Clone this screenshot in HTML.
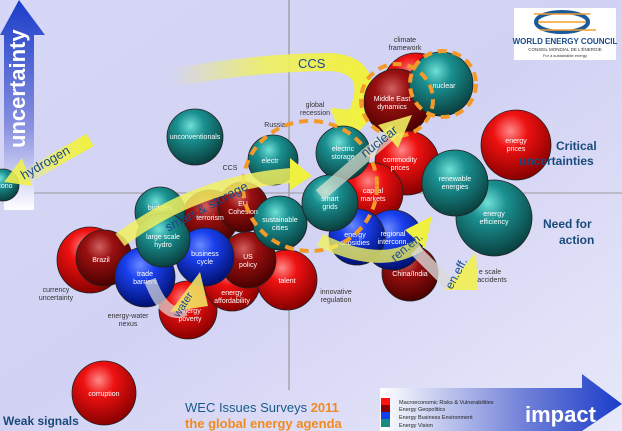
<!DOCTYPE html>
<html><head><meta charset="utf-8"><style>
html,body{margin:0;padding:0;width:622px;height:431px;overflow:hidden}
svg{display:block}
text{font-family:"Liberation Sans",sans-serif}
.l{font-size:7px;fill:#fff;text-anchor:middle}
.k{font-size:7px;fill:#333;text-anchor:middle}
</style></head><body>
<svg width="622" height="431" viewBox="0 0 622 431" xmlns="http://www.w3.org/2000/svg">
<defs>
<linearGradient id="bg" x1="0" y1="0" x2="1" y2="1"><stop offset="0" stop-color="#d6d6f6"/><stop offset="0.5" stop-color="#d2d2f4"/><stop offset="1" stop-color="#e8e8fa"/></linearGradient>
<radialGradient id="gR" cx="0.42" cy="0.3" r="0.7"><stop offset="0" stop-color="#ff8888"/><stop offset="0.35" stop-color="#ee1111"/><stop offset="1" stop-color="#880000"/></radialGradient>
<radialGradient id="gD" cx="0.42" cy="0.3" r="0.7"><stop offset="0" stop-color="#d06060"/><stop offset="0.35" stop-color="#9a1010"/><stop offset="1" stop-color="#4a0000"/></radialGradient>
<radialGradient id="gB" cx="0.42" cy="0.3" r="0.7"><stop offset="0" stop-color="#6a8aff"/><stop offset="0.35" stop-color="#1a40ee"/><stop offset="1" stop-color="#001070"/></radialGradient>
<radialGradient id="gT" cx="0.42" cy="0.3" r="0.7"><stop offset="0" stop-color="#70e0d8"/><stop offset="0.35" stop-color="#1a9090"/><stop offset="1" stop-color="#0a4040"/></radialGradient>
<linearGradient id="up" x1="0" y1="0" x2="0" y2="1"><stop offset="0" stop-color="#1a3cc8"/><stop offset="0.6" stop-color="#8890e0"/><stop offset="1" stop-color="#ffffff"/></linearGradient>
<linearGradient id="rt" x1="0" y1="0" x2="1" y2="0"><stop offset="0" stop-color="#ffffff"/><stop offset="0.6" stop-color="#7080d8"/><stop offset="1" stop-color="#1a3cc8"/></linearGradient>
<linearGradient id="yl" x1="0" y1="0" x2="1" y2="0"><stop offset="0" stop-color="#f0f060" stop-opacity="0"/><stop offset="0.5" stop-color="#f0f060" stop-opacity="0.9"/><stop offset="1" stop-color="#f0f040"/></linearGradient>
</defs>
<rect width="622" height="431" fill="url(#bg)"/>
<line x1="289" y1="0" x2="289" y2="390" stroke="#888" stroke-width="1"/>
<line x1="0" y1="193" x2="622" y2="193" stroke="#999" stroke-width="1"/>
<!-- uncertainty arrow -->
<polygon points="0,35 19,0 45,35 34,35 34,210 4,210 4,35" fill="url(#up)"/>
<text transform="translate(25,148) rotate(-90)" font-size="22" font-weight="bold" fill="#fff">uncertainty</text>
<!-- impact arrow -->
<polygon points="380,388 582,388 582,374 622,404 582,431 380,431" fill="url(#rt)"/>
<text x="525" y="422" font-size="22" font-weight="bold" fill="#fff">impact</text>
<!-- logo -->
<rect x="514" y="8" width="102" height="52" fill="#fff"/>
<ellipse cx="562" cy="22" rx="26" ry="10" fill="none" stroke="#1a5a9a" stroke-width="4"/>
<line x1="534" y1="14" x2="590" y2="14" stroke="#f0a030" stroke-width="1.5"/>
<line x1="538" y1="22" x2="586" y2="22" stroke="#f0a030" stroke-width="1.5"/>
<line x1="540" y1="30" x2="596" y2="30" stroke="#f0a030" stroke-width="1.5"/>
<text x="565" y="44" font-size="8" font-weight="bold" fill="#1a4a8a" text-anchor="middle">WORLD ENERGY COUNCIL</text>
<text x="565" y="51" font-size="4.5" fill="#333" text-anchor="middle">CONSEIL MONDIAL DE L'ÉNERGIE</text>
<text x="565" y="57" font-size="4" fill="#333" text-anchor="middle">For a sustainable energy</text>
<!-- CCS arrow -->
<path d="M170,78 Q260,62 330,62 Q380,65 355,120" fill="none" stroke="url(#yl)" stroke-width="18"/>
<polygon points="330,108 378,112 345,145" fill="#f0f040" opacity="0.95"/>
<text x="298" y="68" font-size="13" fill="#1a4a8a">CCS</text>
<!-- spheres -->
<g stroke="#222" stroke-width="0.8">
<circle cx="195" cy="137" r="28" fill="url(#gT)"/>
<circle cx="3" cy="185" r="16" fill="url(#gT)"/>
<circle cx="416" cy="86" r="33" fill="url(#gR)"/>
<circle cx="397" cy="102" r="33" fill="url(#gD)"/>
<circle cx="441" cy="84" r="32" fill="url(#gT)"/>
<circle cx="516" cy="145" r="35" fill="url(#gR)"/>
<circle cx="90" cy="260" r="33" fill="url(#gR)"/>
<circle cx="104" cy="258" r="28" fill="url(#gD)"/>
<circle cx="104" cy="393" r="32" fill="url(#gR)"/>
<circle cx="188" cy="310" r="29" fill="url(#gR)"/>
<circle cx="232" cy="283" r="28" fill="url(#gR)"/>
<circle cx="287" cy="280" r="30" fill="url(#gR)"/>
<circle cx="410" cy="273" r="28" fill="url(#gD)"/>
<circle cx="494" cy="218" r="38" fill="url(#gT)"/>
<circle cx="407" cy="163" r="32" fill="url(#gR)"/>
<circle cx="455" cy="183" r="33" fill="url(#gT)"/>
<circle cx="373" cy="193" r="30" fill="url(#gR)"/>
<circle cx="393" cy="240" r="30" fill="url(#gB)"/>
<circle cx="357" cy="237" r="28" fill="url(#gB)"/>
<circle cx="210" cy="218" r="28" fill="url(#gD)"/>
<circle cx="243" cy="207" r="25" fill="url(#gD)"/>
<circle cx="248" cy="260" r="28" fill="url(#gD)"/>
<circle cx="145" cy="277" r="30" fill="url(#gB)"/>
<circle cx="205" cy="257" r="29" fill="url(#gB)"/>
<circle cx="160" cy="212" r="25" fill="url(#gT)"/>
<circle cx="163" cy="240" r="27" fill="url(#gT)"/>
<circle cx="273" cy="160" r="25" fill="url(#gT)"/>
<circle cx="343" cy="153" r="27" fill="url(#gT)"/>
<circle cx="280" cy="223" r="27" fill="url(#gT)"/>
<circle cx="330" cy="203" r="28" fill="url(#gT)"/>
</g>
<!-- sphere labels -->
<text class="l" x="195" y="139">unconventionals</text>
<text class="l" x="3" y="188">econo</text>
<text class="l" x="392" y="101">Middle East</text><text class="l" x="392" y="109">dynamics</text>
<text class="l" x="444" y="88">nuclear</text>
<text class="l" x="516" y="143">energy</text><text class="l" x="516" y="151">prices</text>
<text class="l" x="101" y="262">Brazil</text>
<text class="l" x="104" y="396">corruption</text>
<text class="l" x="190" y="313">energy</text><text class="l" x="190" y="321">poverty</text>
<text class="l" x="232" y="295">energy</text><text class="l" x="232" y="303">affordability</text>
<text class="l" x="287" y="283">talent</text>
<text class="l" x="410" y="276">China/India</text>
<text class="l" x="494" y="216">energy</text><text class="l" x="494" y="224">efficiency</text>
<text class="l" x="400" y="162">commodity</text><text class="l" x="400" y="170">prices</text>
<text class="l" x="455" y="181">renewable</text><text class="l" x="455" y="189">energies</text>
<text class="l" x="373" y="193">capital</text><text class="l" x="373" y="201">markets</text>
<text class="l" x="393" y="236">regional</text><text class="l" x="393" y="244">interconn.</text>
<text class="l" x="355" y="237">energy</text><text class="l" x="355" y="245">subsidies</text>
<text class="l" x="210" y="220">terrorism</text>
<text class="l" x="243" y="206">EU</text><text class="l" x="243" y="214">Cohesion</text>
<text class="l" x="248" y="259">US</text><text class="l" x="248" y="267">policy</text>
<text class="l" x="145" y="276">trade</text><text class="l" x="145" y="284">barriers</text>
<text class="l" x="205" y="256">business</text><text class="l" x="205" y="264">cycle</text>
<text class="l" x="160" y="210">biofuels</text>
<text class="l" x="163" y="239">large scale</text><text class="l" x="163" y="247">hydro</text>
<text class="l" x="270" y="163">electr</text>
<text class="l" x="343" y="151">electric</text><text class="l" x="343" y="159">storage</text>
<text class="l" x="280" y="222">sustainable</text><text class="l" x="280" y="230">cities</text>
<text class="l" x="330" y="201">smart</text><text class="l" x="330" y="209">grids</text>
<!-- external labels -->
<text class="k" x="405" y="42">climate</text><text class="k" x="405" y="50">framework</text>
<text class="k" x="275" y="127">Russia</text>
<text class="k" x="315" y="107">global</text><text class="k" x="315" y="115">recession</text>
<text class="k" x="230" y="170">CCS</text>
<text class="k" x="56" y="292">currency</text><text class="k" x="56" y="300">uncertainty</text>
<text class="k" x="128" y="318">energy-water</text><text class="k" x="128" y="326">nexus</text>
<text class="k" x="336" y="294">innovative</text><text class="k" x="336" y="302">regulation</text>
<text class="k" x="490" y="274">e scale</text><text class="k" x="492" y="282">accidents</text>
<!-- orange dashed circles -->
<g fill="none" stroke="#f39a2a" stroke-width="4" stroke-dasharray="9,6">
<ellipse cx="310" cy="186" rx="67" ry="65"/>
<circle cx="397" cy="100" r="36"/>
<circle cx="443" cy="84" r="33"/>
</g>
<!-- yellow arrows -->
<path d="M90,140 L20,180" stroke="url(#yl)" stroke-width="14" fill="none" transform=""/>
<polygon points="4,182 22,158 32,186" fill="#f0f050" opacity="0.9"/>
<text transform="translate(24,180) rotate(-30)" font-size="13" fill="#1a4a8a">hydrogen</text>
<path d="M120,240 Q200,180 300,175" stroke="#f0f060" stroke-opacity="0.85" stroke-width="15" fill="none"/>
<polygon points="290,158 312,176 290,190" fill="#f0f040"/>
<text transform="translate(168,232) rotate(-28)" font-size="13" fill="#1a4a8a">smart &amp; storage</text>
<path d="M320,195 L395,130" stroke="#e0e0d0" stroke-opacity="0.7" stroke-width="13" fill="none"/>
<polygon points="378,125 412,115 398,148" fill="#f0f060" opacity="0.9"/>
<text transform="translate(365,158) rotate(-38)" font-size="13" fill="#1a4a8a">nuclear</text>
<path d="M320,240 Q380,270 420,245" stroke="#f0f060" stroke-opacity="0.8" stroke-width="13" fill="none"/>
<polygon points="405,230 432,216 425,248" fill="#f0f040"/>
<text transform="translate(395,262) rotate(-40)" font-size="12" fill="#1a4a8a">ren.en.</text>
<path d="M415,250 L450,285" stroke="#d8d8d8" stroke-opacity="0.8" stroke-width="12" fill="none"/>
<polygon points="445,290 476,252 478,290" fill="#f0f050" opacity="0.9"/>
<text transform="translate(452,290) rotate(-62)" font-size="12" fill="#1a4a8a">en.eff.</text>
<path d="M150,280 Q165,320 185,310" stroke="#ddd" stroke-opacity="0.7" stroke-width="12" fill="none"/>
<polygon points="170,312 200,272 208,306" fill="#f0e060" opacity="0.9"/>
<text transform="translate(179,318) rotate(-58)" font-size="11" fill="#1a4a8a">water</text>
<!-- quadrant labels -->
<text x="556" y="150" font-size="12" font-weight="bold" fill="#1a4a7a">Critical</text>
<text x="519" y="165" font-size="12" font-weight="bold" fill="#1a4a7a">uncertainties</text>
<text x="543" y="228" font-size="12" font-weight="bold" fill="#1a4a7a">Need for</text>
<text x="559" y="244" font-size="12" font-weight="bold" fill="#1a4a7a">action</text>
<text x="3" y="425" font-size="12" font-weight="bold" fill="#1a4a7a">Weak signals</text>
<text x="185" y="412" font-size="13" fill="#1a5a8a">WEC Issues Surveys <tspan fill="#f08a20" font-weight="bold">2011</tspan></text>
<text x="185" y="428" font-size="13" font-weight="bold" fill="#f08a20">the global energy agenda</text>
<!-- legend -->
<rect x="381" y="398" width="9" height="7" fill="#ff1010"/>
<rect x="381" y="405" width="9" height="7" fill="#880000"/>
<rect x="381" y="412" width="9" height="7" fill="#1040ee"/>
<rect x="381" y="419" width="9" height="8" fill="#1a8a80"/>
<g font-size="5.5" fill="#222">
<text x="399" y="404">Macroeconomic Risks &amp; Vulnerabilities</text>
<text x="399" y="411">Energy Geopolitics</text>
<text x="399" y="419">Energy Business Environment</text>
<text x="399" y="427">Energy Vision</text>
</g>
</svg>
</body></html>
